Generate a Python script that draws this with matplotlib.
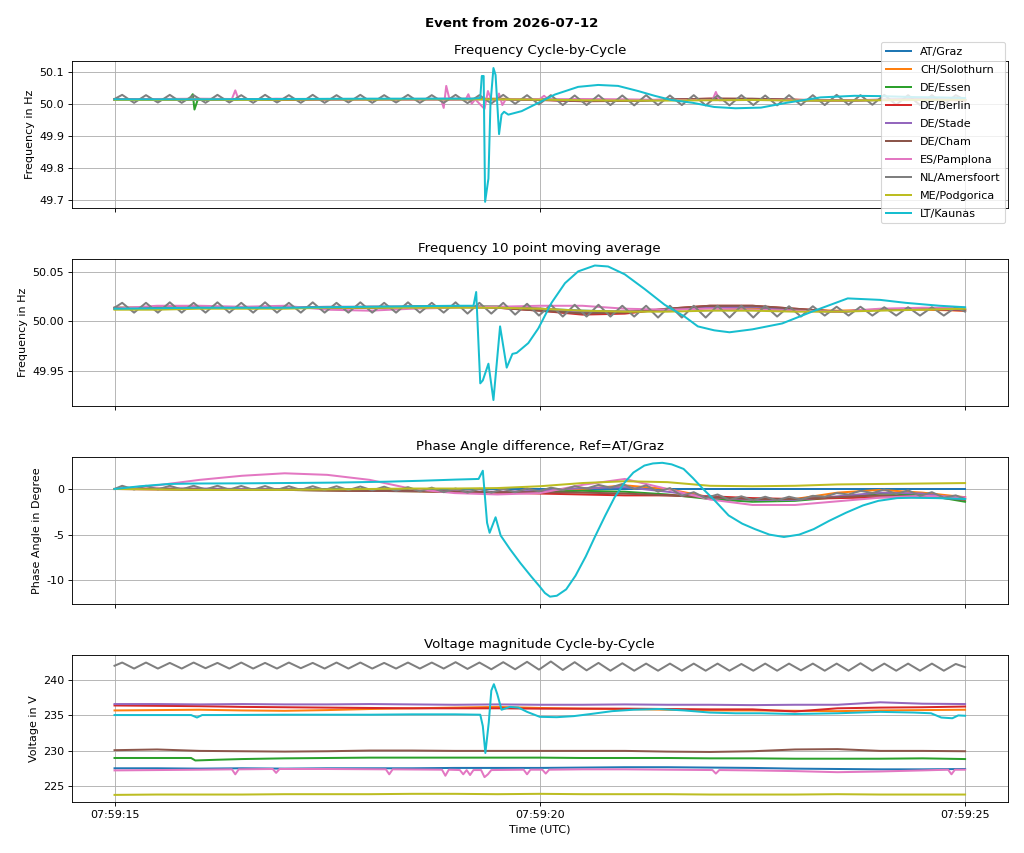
import numpy as np
import matplotlib
matplotlib.use("Agg")
import matplotlib.pyplot as plt
import matplotlib.dates as mdates
from matplotlib.ticker import FormatStrFormatter
from datetime import datetime, timedelta

start = datetime(2026, 7, 12, 7, 59, 0)

stations = ["AT/Graz", "CH/Solothurn", "DE/Essen", "DE/Berlin", "DE/Stade",
            "DE/Cham", "ES/Pamplona", "NL/Amersfoort", "ME/Podgorica", "LT/Kaunas"]

# seconds after 07:59:00
t_grid = np.arange(15.0, 25.01, 0.5)
t_nl = np.concatenate([[15.0], 15.09 + 0.14 * np.arange(71), [25.0]])

# ---------------- frequency cycle-by-cycle ----------------
fc_at = [50.013, 50.014, 50.013, 50.014, 50.015, 50.014, 50.013, 50.015, 50.014, 50.015, 50.014,
         50.011, 50.010, 50.012, 50.014, 50.013, 50.011, 50.010, 50.012, 50.013, 50.012]
fc_ch = [50.012, 50.013, 50.014, 50.013, 50.014, 50.015, 50.014, 50.014, 50.015, 50.016, 50.013,
         50.010, 50.011, 50.012, 50.013, 50.014, 50.012, 50.011, 50.012, 50.012, 50.011]
fc_t_essen = [15.0, 15.5, 15.88, 15.92, 15.94, 15.98, 16.5, 17.0, 17.5, 18.0, 18.5, 19.0, 19.5,
              20.0, 20.5, 21.0, 21.5, 22.0, 22.5, 23.0, 23.5, 24.0, 24.5, 25.0]
fc_essen = [50.013, 50.014, 50.014, 50.030, 49.982, 50.014, 50.014, 50.013, 50.014, 50.015, 50.014,
            50.015, 50.015, 50.013, 50.009, 50.010, 50.012, 50.015, 50.014, 50.012, 50.010, 50.012,
            50.013, 50.012]
fc_berlin = [50.014, 50.013, 50.014, 50.014, 50.013, 50.014, 50.015, 50.015, 50.014, 50.015, 50.012,
             50.008, 50.009, 50.013, 50.016, 50.015, 50.013, 50.010, 50.012, 50.013, 50.011]
fc_stade = [50.013, 50.014, 50.015, 50.014, 50.014, 50.015, 50.014, 50.015, 50.016, 50.015, 50.013,
            50.010, 50.011, 50.012, 50.014, 50.015, 50.012, 50.010, 50.013, 50.013, 50.012]
fc_cham = [50.014, 50.014, 50.013, 50.014, 50.015, 50.014, 50.014, 50.015, 50.015, 50.014, 50.012,
           50.009, 50.009, 50.013, 50.016, 50.016, 50.012, 50.010, 50.012, 50.013, 50.012]
fc_t_pamp = [15.0, 15.5, 16.0, 16.38, 16.42, 16.46, 16.9, 17.5, 17.9, 18.2, 18.84, 18.87, 18.9, 18.94,
             19.13, 19.16, 19.2, 19.24, 19.35, 19.39, 19.43, 19.5, 19.52, 19.56, 19.6, 20.0, 20.05,
             20.1, 20.5, 21.0, 21.5, 22.03, 22.07, 22.11, 22.5, 23.0, 23.5, 24.0, 24.5, 25.0]
fc_pamp = [50.013, 50.015, 50.016, 50.015, 50.042, 50.012, 50.016, 50.013, 50.012, 50.012, 50.013,
           49.987, 50.056, 50.012, 50.014, 50.030, 50.000, 50.014, 49.984, 50.040, 50.012, 50.014,
           50.032, 49.996, 50.014, 50.015, 50.025, 50.014, 50.015, 50.014, 50.012, 50.012, 50.037,
           50.011, 50.012, 50.011, 50.010, 50.012, 50.013, 50.014]
fc_nl = [50.015,
         50.028, 50.003, 50.027, 50.004, 50.028, 50.003, 50.027, 50.003, 50.028, 50.004,
         50.027, 50.003, 50.028, 50.004, 50.027, 50.003, 50.028, 50.003, 50.027, 50.004,
         50.028, 50.003, 50.027, 50.004, 50.028, 50.003, 50.027, 50.003, 50.028, 50.002,
         50.027, 50.001, 50.028, 50.000, 50.027, 49.998, 50.027, 49.996, 50.026, 49.996,
         50.027, 49.996, 50.026, 49.995, 50.027, 49.996, 50.026, 49.996, 50.027, 49.995,
         50.026, 49.995, 50.027, 49.996, 50.026, 49.995, 50.027, 49.996, 50.027, 49.996,
         50.028, 49.997, 50.027, 49.997, 50.028, 49.997, 50.027, 49.996, 50.027, 49.997,
         50.027,
         50.012]
fc_me = [50.012, 50.012, 50.013, 50.012, 50.013, 50.014, 50.013, 50.014, 50.014, 50.014, 50.013,
         50.011, 50.010, 50.010, 50.011, 50.012, 50.010, 50.010, 50.011, 50.012, 50.013]
fc_t_lt = [15.0, 16.0, 17.0, 18.0, 18.8, 19.2, 19.3, 19.318, 19.34, 19.357, 19.396, 19.42, 19.455,
           19.48, 19.521, 19.55, 19.58, 19.63, 19.787, 19.983, 20.178, 20.451, 20.686, 20.92, 21.155,
           21.35, 21.545, 21.8, 22.05, 22.3, 22.6, 22.9, 23.3, 23.7, 24.0, 24.4, 24.7, 25.0]
fc_lt = [50.014, 50.014, 50.015, 50.016, 50.016, 50.016, 50.018, 50.087, 50.087, 49.693, 49.766,
         50.000, 50.112, 50.090, 49.905, 49.966, 49.975, 49.966, 49.977, 50.003, 50.029, 50.053,
         50.059, 50.056, 50.040, 50.025, 50.012, 50.003, 49.990, 49.986, 49.988, 50.003, 50.020,
         50.025, 50.024, 50.021, 50.020, 50.018]

# ---------------- frequency 10 point moving average ----------------
fm_at = [50.013, 50.014, 50.014, 50.014, 50.014, 50.014, 50.014, 50.015, 50.015, 50.015, 50.013,
         50.011, 50.010, 50.012, 50.014, 50.014, 50.012, 50.010, 50.012, 50.013, 50.013]
fm_ch = [50.013, 50.013, 50.014, 50.014, 50.014, 50.014, 50.014, 50.015, 50.015, 50.015, 50.013,
         50.010, 50.010, 50.012, 50.014, 50.014, 50.012, 50.011, 50.012, 50.012, 50.011]
fm_essen = [50.013, 50.014, 50.014, 50.014, 50.014, 50.014, 50.014, 50.015, 50.015, 50.015, 50.012,
            50.009, 50.009, 50.012, 50.015, 50.015, 50.012, 50.010, 50.012, 50.013, 50.012]
fm_berlin = [50.014, 50.014, 50.014, 50.014, 50.014, 50.014, 50.015, 50.015, 50.015, 50.014, 50.011,
             50.007, 50.008, 50.013, 50.016, 50.016, 50.013, 50.010, 50.012, 50.013, 50.011]
fm_stade = [50.013, 50.014, 50.014, 50.014, 50.014, 50.015, 50.015, 50.015, 50.015, 50.015, 50.013,
            50.010, 50.010, 50.012, 50.014, 50.015, 50.012, 50.010, 50.012, 50.013, 50.012]
fm_cham = [50.014, 50.014, 50.014, 50.014, 50.014, 50.014, 50.014, 50.015, 50.015, 50.014, 50.011,
           50.008, 50.009, 50.013, 50.016, 50.016, 50.013, 50.010, 50.012, 50.013, 50.012]
fm_pamp = [50.013, 50.016, 50.016, 50.015, 50.016, 50.012, 50.011, 50.013, 50.014, 50.015, 50.016,
           50.016, 50.013, 50.012, 50.013, 50.012, 50.011, 50.010, 50.013, 50.014, 50.014]
fm_nl = [50.014,
         50.019, 50.009, 50.019, 50.009, 50.0195, 50.009, 50.019, 50.009, 50.0195, 50.009,
         50.019, 50.009, 50.0195, 50.009, 50.019, 50.009, 50.0195, 50.009, 50.019, 50.009,
         50.0195, 50.009, 50.019, 50.009, 50.0195, 50.009, 50.019, 50.009, 50.0195, 50.008,
         50.019, 50.008, 50.019, 50.007, 50.018, 50.006, 50.017, 50.005, 50.017, 50.005,
         50.017, 50.005, 50.016, 50.005, 50.016, 50.004, 50.016, 50.004, 50.016, 50.004,
         50.016, 50.004, 50.016, 50.004, 50.016, 50.005, 50.0155, 50.005, 50.0155, 50.006,
         50.015, 50.006, 50.015, 50.006, 50.0145, 50.006, 50.0145, 50.006, 50.0145, 50.006,
         50.0145,
         50.010]
fm_me = [50.012, 50.012, 50.013, 50.013, 50.013, 50.014, 50.014, 50.014, 50.014, 50.014, 50.013,
         50.011, 50.010, 50.010, 50.011, 50.011, 50.010, 50.010, 50.011, 50.012, 50.013]
fm_t_lt = [15.0, 16.0, 17.0, 18.0, 19.0, 19.22, 19.252, 19.3, 19.33, 19.396, 19.455, 19.533, 19.611,
           19.678, 19.728, 19.865, 19.983, 20.138, 20.296, 20.451, 20.647, 20.803, 20.999, 21.233,
           21.468, 21.702, 21.858, 22.05, 22.23, 22.5, 22.85, 23.2, 23.62, 24.0, 24.3, 24.7, 25.0]
fm_lt = [50.013, 50.014, 50.014, 50.015, 50.016, 50.016, 50.030, 49.937, 49.940, 49.957, 49.920,
         49.995, 49.953, 49.967, 49.968, 49.978, 49.993, 50.019, 50.039, 50.051, 50.057, 50.056,
         50.048, 50.033, 50.017, 50.005, 49.995, 49.991, 49.989, 49.992, 49.998, 50.010, 50.0235,
         50.022, 50.019, 50.016, 50.0145]

# ---------------- phase angle difference (deg) ----------------
pa_at = [0.0] * 21
pa_ch = [0.0, 0.05, 0.0, 0.0, -0.05, -0.1, -0.15, -0.2, -0.3, -0.35, -0.3, 0.0, 0.4, 0.0, -0.9,
         -1.2, -1.1, -0.4, -0.1, -0.4, -0.9]
pa_essen = [0.0, 0.0, -0.05, -0.05, -0.1, -0.15, -0.2, -0.25, -0.3, -0.35, -0.3, -0.2, -0.3, -0.6,
            -1.1, -1.4, -1.3, -0.9, -0.5, -0.6, -1.4]
pa_berlin = [0.0, -0.05, -0.05, -0.1, -0.1, -0.15, -0.2, -0.25, -0.3, -0.4, -0.5, -0.6, -0.7, -0.7,
             -0.8, -1.0, -1.1, -1.0, -0.9, -0.9, -0.9]
pa_stade = [0.0, 0.05, 0.05, 0.0, -0.05, -0.1, -0.15, -0.2, -0.25, -0.3, -0.2, 0.1, 0.2, -0.3, -0.9,
            -1.2, -1.2, -0.8, -0.4, -0.5, -1.1]
pa_cham = [0.0, 0.0, -0.05, -0.1, -0.1, -0.15, -0.2, -0.2, -0.3, -0.35, -0.35, -0.4, -0.5, -0.7,
           -0.9, -1.1, -1.1, -0.9, -0.7, -0.8, -1.2]
pa_pamp = [0.0, 0.4, 1.0, 1.45, 1.72, 1.55, 1.0, 0.0, -0.45, -0.6, -0.45, 0.45, 1.1, 0.0, -1.15,
           -1.75, -1.75, -1.35, -0.95, -0.75, -0.9]
pa_nl = [0.0,
         0.35, -0.05, 0.35, -0.05, 0.35, -0.05, 0.35, -0.05, 0.35, -0.07,
         0.33, -0.08, 0.32, -0.1, 0.3, -0.1, 0.3, -0.1, 0.3, -0.12,
         0.27, -0.15, 0.25, -0.2, 0.2, -0.25, 0.15, -0.35, 0.05, -0.4,
         0.02, -0.4, 0.0, -0.35, 0.05, -0.25, 0.15, -0.1, 0.3, 0.05,
         0.45, 0.15, 0.55, 0.0, 0.4, -0.3, 0.1, -0.75, -0.35, -1.0,
         -0.6, -1.2, -0.8, -1.25, -0.85, -1.25, -0.85, -1.15, -0.75, -0.85,
         -0.45, -0.6, -0.2, -0.45, -0.05, -0.55, -0.15, -0.75, -0.35, -0.95,
         -0.7,
         -1.1]
pa_me = [0.0, -0.05, -0.1, -0.1, -0.1, -0.05, 0.0, 0.05, 0.05, 0.1, 0.3, 0.65, 0.85, 0.75, 0.35,
         0.3, 0.35, 0.5, 0.55, 0.6, 0.65]
pa_t_lt = [15.0, 15.3, 15.64, 15.95, 16.5, 17.1, 17.6, 18.2, 18.6, 19.01, 19.28, 19.33, 19.38, 19.41,
           19.48, 19.54, 19.65, 19.77, 19.9, 20.0, 20.06, 20.12, 20.2, 20.31, 20.42, 20.54, 20.65,
           20.77, 20.88, 21.0, 21.1, 21.23, 21.33, 21.44, 21.55, 21.69, 21.8, 21.92, 22.05, 22.22,
           22.38, 22.53, 22.7, 22.87, 23.05, 23.22, 23.4, 23.6, 23.8, 23.98, 24.2, 24.37, 24.67, 25.0]
pa_lt = [0.0, 0.3, 0.55, 0.6, 0.62, 0.66, 0.7, 0.8, 0.9, 1.03, 1.1, 2.0, -3.7, -4.8, -3.1, -5.1,
         -6.6, -8.1, -9.6, -10.7, -11.4, -11.8, -11.7, -11.0, -9.5, -7.4, -5.2, -2.9, -0.9, 0.74,
         1.8, 2.57, 2.8, 2.87, 2.7, 2.2, 1.2, 0.0, -1.2, -2.9, -3.8, -4.4, -5.0, -5.26, -5.0, -4.4,
         -3.5, -2.6, -1.8, -1.3, -1.0, -0.96, -1.0, -1.1]

# ---------------- voltage magnitude (V) ----------------
vm_at = [227.55, 227.55, 227.5, 227.55, 227.5, 227.55, 227.55, 227.55, 227.6, 227.6, 227.6, 227.65,
         227.7, 227.7, 227.65, 227.6, 227.5, 227.45, 227.4, 227.4, 227.45]
vm_ch = [235.7, 235.75, 235.8, 235.7, 235.65, 235.75, 235.9, 236.0, 236.1, 236.2, 236.05, 235.95,
         235.9, 235.8, 235.7, 235.7, 235.65, 235.6, 235.7, 235.75, 235.8]
vm_t_essen = [15.0, 15.5, 15.9, 15.95, 16.2, 16.5, 17.0, 17.5, 18.0, 18.5, 19.0, 19.5, 20.0, 20.5,
              21.0, 21.5, 22.0, 22.5, 23.0, 23.5, 24.0, 24.5, 25.0]
vm_essen = [229.0, 229.0, 229.0, 228.65, 228.75, 228.85, 228.95, 229.0, 229.05, 229.05, 229.05,
            229.05, 229.05, 229.0, 229.0, 229.0, 228.95, 228.95, 228.9, 228.9, 228.9, 228.95, 228.85]
vm_berlin = [236.4, 236.35, 236.3, 236.2, 236.15, 236.1, 236.05, 236.0, 236.0, 236.0, 235.95, 235.95,
             235.95, 235.9, 235.85, 235.85, 235.55, 236.0, 236.1, 236.15, 236.25]
vm_stade = [236.6, 236.6, 236.55, 236.6, 236.55, 236.55, 236.6, 236.55, 236.5, 236.55, 236.5, 236.5,
            236.55, 236.5, 236.5, 236.45, 236.5, 236.5, 236.85, 236.65, 236.6]
vm_cham = [230.1, 230.2, 230.0, 229.95, 229.9, 229.95, 230.05, 230.05, 230.0, 230.0, 230.0, 230.0,
           230.0, 229.9, 229.85, 229.95, 230.2, 230.25, 230.0, 230.0, 229.95]
vm_t_pamp = [15.0, 15.5, 16.0, 16.38, 16.42, 16.46, 16.86, 16.9, 16.94, 17.5, 18.19, 18.23, 18.27,
             18.85, 18.89, 18.93, 19.06, 19.1, 19.14, 19.18, 19.22, 19.31, 19.35, 19.39, 19.43, 19.81,
             19.85, 19.89, 20.03, 20.07, 20.11, 20.5, 21.0, 21.5, 22.03, 22.07, 22.11, 22.5, 23.0,
             23.5, 24.0, 24.5, 24.8, 24.84, 24.88, 25.0]
vm_pamp = [227.25, 227.3, 227.35, 227.4, 226.7, 227.4, 227.45, 226.9, 227.45, 227.45, 227.4, 226.7,
           227.4, 227.35, 226.5, 227.35, 227.3, 226.7, 227.3, 226.6, 227.3, 227.3, 226.3, 226.7,
           227.3, 227.35, 226.7, 227.35, 227.35, 226.8, 227.35, 227.4, 227.4, 227.35, 227.3, 226.8,
           227.3, 227.25, 227.15, 227.0, 227.1, 227.25, 227.35, 226.7, 227.35, 227.35]
vm_nl = [242.0,
         242.45, 241.6, 242.45, 241.6, 242.4, 241.6, 242.45, 241.65, 242.4, 241.6,
         242.45, 241.6, 242.4, 241.6, 242.45, 241.65, 242.4, 241.6, 242.45, 241.6,
         242.45, 241.6, 242.4, 241.6, 242.45, 241.6, 242.45, 241.6, 242.5, 241.55,
         242.45, 241.5, 242.5, 241.5, 242.55, 241.45, 242.6, 241.4, 242.5, 241.35,
         242.4, 241.3, 242.35, 241.3, 242.3, 241.3, 242.3, 241.3, 242.3, 241.3,
         242.3, 241.3, 242.25, 241.3, 242.3, 241.3, 242.3, 241.35, 242.3, 241.3,
         242.3, 241.3, 242.35, 241.3, 242.3, 241.3, 242.3, 241.3, 242.3, 241.3,
         242.25,
         241.8]
vm_me = [223.8, 223.85, 223.85, 223.85, 223.9, 223.9, 223.9, 223.95, 223.95, 223.9, 223.95, 223.9,
         223.9, 223.9, 223.85, 223.85, 223.85, 223.9, 223.85, 223.85, 223.85]
vm_t_lt = [15.0, 15.9, 15.97, 16.03, 16.2, 17.0, 18.0, 18.5, 19.0, 19.3, 19.33, 19.36, 19.4, 19.43,
           19.46, 19.5, 19.55, 19.65, 19.75, 19.85, 20.0, 20.2, 20.4, 20.6, 20.85, 21.1, 21.4, 21.7,
           22.0, 22.3, 22.6, 23.0, 23.5, 24.0, 24.4, 24.6, 24.72, 24.85, 24.92, 25.0]
vm_lt = [235.05, 235.05, 234.7, 235.05, 235.05, 235.1, 235.1, 235.15, 235.15, 235.1, 233.5, 229.7,
         234.0, 238.5, 239.4, 238.0, 235.8, 236.2, 236.1, 235.5, 234.8, 234.75, 234.9, 235.2, 235.6,
         235.8, 235.9, 235.7, 235.4, 235.3, 235.3, 235.2, 235.3, 235.5, 235.4, 235.3, 234.7, 234.6,
         235.0, 234.95]


def to_time(secs):
    return [start + timedelta(seconds=float(s)) for s in secs]


panels = [
    [(t_grid, fc_at), (t_grid, fc_ch), (fc_t_essen, fc_essen), (t_grid, fc_berlin),
     (t_grid, fc_stade), (t_grid, fc_cham), (fc_t_pamp, fc_pamp), (t_nl, fc_nl),
     (t_grid, fc_me), (fc_t_lt, fc_lt)],
    [(t_grid, fm_at), (t_grid, fm_ch), (t_grid, fm_essen), (t_grid, fm_berlin),
     (t_grid, fm_stade), (t_grid, fm_cham), (t_grid, fm_pamp), (t_nl, fm_nl),
     (t_grid, fm_me), (fm_t_lt, fm_lt)],
    [(t_grid, pa_at), (t_grid, pa_ch), (t_grid, pa_essen), (t_grid, pa_berlin),
     (t_grid, pa_stade), (t_grid, pa_cham), (t_grid, pa_pamp), (t_nl, pa_nl),
     (t_grid, pa_me), (pa_t_lt, pa_lt)],
    [(t_grid, vm_at), (t_grid, vm_ch), (vm_t_essen, vm_essen), (t_grid, vm_berlin),
     (t_grid, vm_stade), (t_grid, vm_cham), (vm_t_pamp, vm_pamp), (t_nl, vm_nl),
     (t_grid, vm_me), (vm_t_lt, vm_lt)],
]
titles = ["Frequency Cycle-by-Cycle", "Frequency 10 point moving average",
          "Phase Angle difference, Ref=AT/Graz", "Voltage magnitude Cycle-by-Cycle"]
ylabels = ["Frequency in Hz", "Frequency in Hz", "Phase Angle in Degree", "Voltage in V"]
ylims = [(49.674, 50.134), (49.914, 50.0636), (-12.6, 3.5), (222.8, 243.5)]
yticks = [[49.7, 49.8, 49.9, 50.0, 50.1], [49.95, 50.0, 50.05], [-10, -5, 0], [225, 230, 235, 240]]
yfmt = ["%.1f", "%.2f", "%d", "%d"]

colors = plt.rcParams["axes.prop_cycle"].by_key()["color"]

fig, axes = plt.subplots(4, 1, sharex=True, figsize=(12.8, 10.6625), dpi=80)
fig.subplots_adjust(left=0.0703, right=0.984, top=0.9285, bottom=0.0598, hspace=0.348)

for i, ax in enumerate(axes):
    for (t, v), name, c in zip(panels[i], stations, colors):
        ax.plot(to_time(t), v, color=c, label=name, lw=1.8)
    ax.set_title(titles[i])
    ax.set_ylabel(ylabels[i])
    ax.set_ylim(*ylims[i])
    ax.set_yticks(yticks[i])
    ax.yaxis.set_major_formatter(FormatStrFormatter(yfmt[i]))
    ax.grid()

axes[-1].xaxis.set_major_locator(mdates.SecondLocator(bysecond=[15, 20, 25]))
axes[-1].xaxis.set_major_formatter(mdates.DateFormatter("%H:%M:%S"))
axes[-1].set_xlabel("Time (UTC)")

handles, labels = axes[0].get_legend_handles_labels()
fig.legend(handles, labels, loc="upper right", bbox_to_anchor=(0.987, 0.957),
           labelspacing=0.72, handlelength=2.3)
fig.suptitle("Event from 2026-07-12", fontweight="bold")

fig.savefig("out.png", dpi=80)
